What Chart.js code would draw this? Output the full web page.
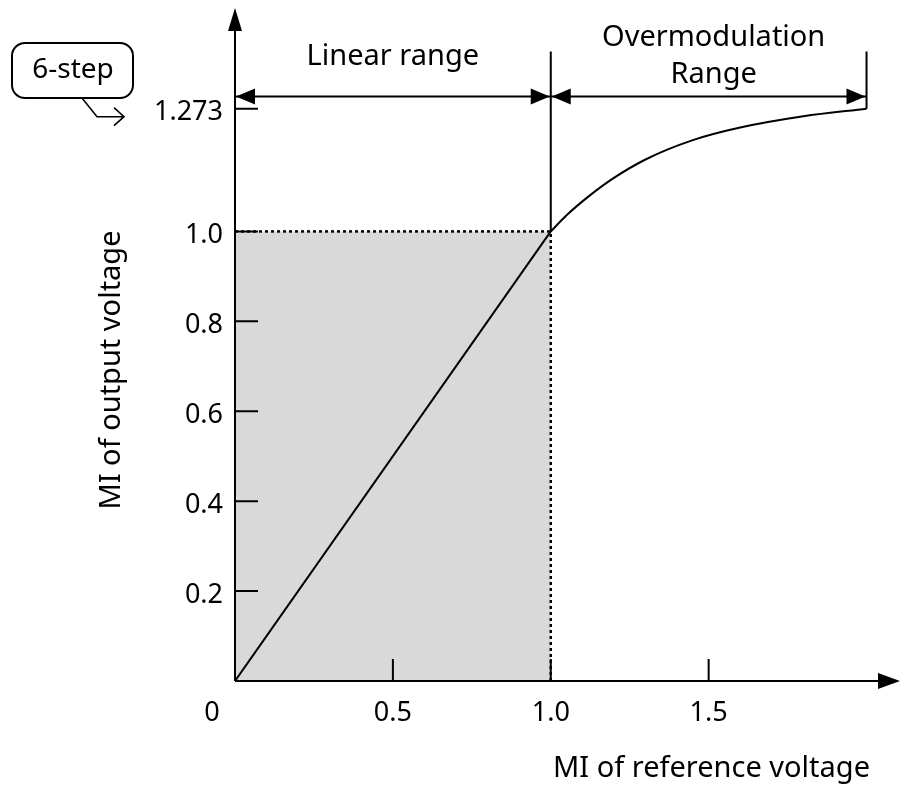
<!DOCTYPE html>
<html>
<head>
<meta charset="utf-8">
<script src="https://cdn.jsdelivr.net/npm/chart.js@4.4.1/dist/chart.umd.min.js"></script>
<style>
  html, body { margin: 0; padding: 0; background: #fff; }
  #wrap { width: 903px; height: 786px; }
</style>
</head>
<body>
<div id="wrap"><canvas id="miChart" width="903" height="786"></canvas></div>
<script>
// MI transfer characteristic
const linearMI = [0, 1.0];
const linearOut = [0, 1.0];
const overMI = [1.0, 1.05, 1.12, 1.2, 1.3, 1.45, 1.6, 1.8, 2.0];
const overOut = [1.0, 1.036, 1.078, 1.119, 1.160, 1.203, 1.231, 1.256, 1.273];

// axis ticks
const xTicks = [0, 0.5, 1.0, 1.5];
const xTickLabels = ['0', '0.5', '1.0', '1.5'];
const yTicks = [0.2, 0.4, 0.6, 0.8, 1.0, 1.273];
const yTickLabels = ['0.2', '0.4', '0.6', '0.8', '1.0', '1.273'];

// range markers
const rangeEdges = [0, 1.0, 2.0];
const rangeArrowY = 1.30;
const rangeTopY = 1.40;

const FONT = '"Noto Sans", "Open Sans", sans-serif';
const toPts = (xs, ys) => xs.map((x, i) => ({ x: x, y: ys[i] }));

const axesPlugin = {
  id: 'axesPlugin',
  afterDatasetsDraw(chart) {
    const ctx = chart.ctx;
    const xs = chart.scales.x, ys = chart.scales.y;
    const px = v => xs.getPixelForValue(v);
    const py = v => ys.getPixelForValue(v);
    const x0 = px(0), y0 = py(0);
    const right = chart.chartArea.right, top = chart.chartArea.top;

    ctx.save();
    ctx.strokeStyle = '#000';
    ctx.fillStyle = '#000';
    ctx.lineWidth = 2;
    ctx.setLineDash([]);

    // axes lines
    ctx.beginPath();
    ctx.moveTo(x0, y0); ctx.lineTo(x0, top + 20);
    ctx.moveTo(x0, y0); ctx.lineTo(right - 18, y0);
    ctx.stroke();
    // axis arrowheads
    ctx.beginPath();
    ctx.moveTo(x0, top); ctx.lineTo(x0 - 7, top + 23); ctx.lineTo(x0 + 7, top + 23); ctx.closePath();
    ctx.fill();
    ctx.beginPath();
    ctx.moveTo(right, y0); ctx.lineTo(right - 22, y0 - 8); ctx.lineTo(right - 22, y0 + 8); ctx.closePath();
    ctx.fill();

    // inward ticks
    ctx.beginPath();
    yTicks.forEach(v => { ctx.moveTo(x0, py(v)); ctx.lineTo(x0 + 23, py(v)); });
    xTicks.forEach(v => { if (v > 0) { ctx.moveTo(px(v), y0); ctx.lineTo(px(v), y0 - 22); } });
    ctx.stroke();

    // tick labels
    ctx.font = '27px ' + FONT;
    ctx.textBaseline = 'middle';
    ctx.textAlign = 'right';
    yTicks.forEach((v, i) => ctx.fillText(yTickLabels[i], x0 - 12, py(v) + 4));
    ctx.textAlign = 'center';
    xTicks.forEach((v, i) => {
      const x = v === 0 ? x0 - 23 : px(v);
      ctx.fillText(xTickLabels[i], x, y0 + 32);
    });

    // range bars
    ctx.beginPath();
    ctx.moveTo(px(rangeEdges[1]), py(1.0)); ctx.lineTo(px(rangeEdges[1]), py(rangeTopY));
    ctx.moveTo(px(rangeEdges[2]), py(overOut[overOut.length - 1])); ctx.lineTo(px(rangeEdges[2]), py(rangeTopY));
    const ay = py(rangeArrowY);
    ctx.moveTo(px(rangeEdges[0]), ay); ctx.lineTo(px(rangeEdges[2]), ay);
    ctx.stroke();
    const head = (tipX, dir) => {
      ctx.beginPath();
      ctx.moveTo(tipX, ay);
      ctx.lineTo(tipX - dir * 19, ay - 8);
      ctx.lineTo(tipX - dir * 19, ay + 8);
      ctx.closePath();
      ctx.fill();
    };
    head(px(rangeEdges[0]) + 1, -1);
    head(px(rangeEdges[1]) - 1, 1);
    head(px(rangeEdges[1]) + 1, -1);
    head(px(rangeEdges[2]) - 1, 1);

    // range labels
    ctx.font = '29px ' + FONT;
    ctx.textAlign = 'center';
    ctx.fillText('Linear range', (px(rangeEdges[0]) + px(rangeEdges[1])) / 2, ay - 40);
    ctx.fillText('Overmodulation', (px(rangeEdges[1]) + px(rangeEdges[2])) / 2 + 5, ay - 59);
    ctx.fillText('Range', (px(rangeEdges[1]) + px(rangeEdges[2])) / 2 + 5, ay - 22);

    // axis titles
    ctx.font = '29px ' + FONT;
    ctx.textAlign = 'right';
    ctx.fillText('MI of reference voltage', 870, y0 + 88);
    ctx.save();
    ctx.translate(112, 370);
    ctx.rotate(-Math.PI / 2);
    ctx.textAlign = 'center';
    ctx.fillText('MI of output voltage', 0, 0);
    ctx.restore();

    // 6-step callout
    const ty = py(1.273) + 8;
    ctx.beginPath();
    ctx.roundRect(12, 43, 121, 55, 13);
    ctx.stroke();
    ctx.textAlign = 'center';
    ctx.font = '28px ' + FONT;
    ctx.fillText('6-step', 73, 70);
    ctx.lineWidth = 1.6;
    ctx.beginPath();
    ctx.moveTo(82, 98); ctx.lineTo(97, ty); ctx.lineTo(124, ty);
    ctx.moveTo(114, ty - 9); ctx.lineTo(124, ty); ctx.lineTo(114, ty + 9);
    ctx.stroke();

    ctx.restore();
  }
};

const lineStyle = { borderColor: '#000', borderWidth: 2, pointRadius: 0, fill: false, order: 0 };

new Chart(document.getElementById('miChart'), {
  type: 'scatter',
  data: {
    datasets: [
      {
        // shaded linear region with dotted top edge (drawn first)
        data: toPts([0, 1.0], [1.0, 1.0]),
        showLine: true, pointRadius: 0, order: 10,
        borderColor: '#000', borderWidth: 2.5, borderDash: [3, 3],
        backgroundColor: '#d9d9d9', fill: 'origin'
      },
      {
        data: toPts([1.0, 1.0], [0, 1.0]),
        showLine: true, ...lineStyle, borderWidth: 2.5, borderDash: [3, 3], order: 5
      },
      {
        data: toPts(linearMI, linearOut),
        showLine: true, ...lineStyle
      },
      {
        data: toPts(overMI, overOut),
        showLine: true, ...lineStyle, cubicInterpolationMode: 'monotone'
      }
    ]
  },
  options: {
    responsive: false,
    animation: false,
    layout: { padding: { left: 235, right: 3, top: 8, bottom: 105 } },
    plugins: { legend: { display: false }, tooltip: { enabled: false } },
    scales: {
      x: { type: 'linear', display: false, min: 0, max: 2.106 },
      y: { type: 'linear', display: false, min: 0, max: 1.497 }
    }
  },
  plugins: [axesPlugin]
});
</script>
</body>
</html>
